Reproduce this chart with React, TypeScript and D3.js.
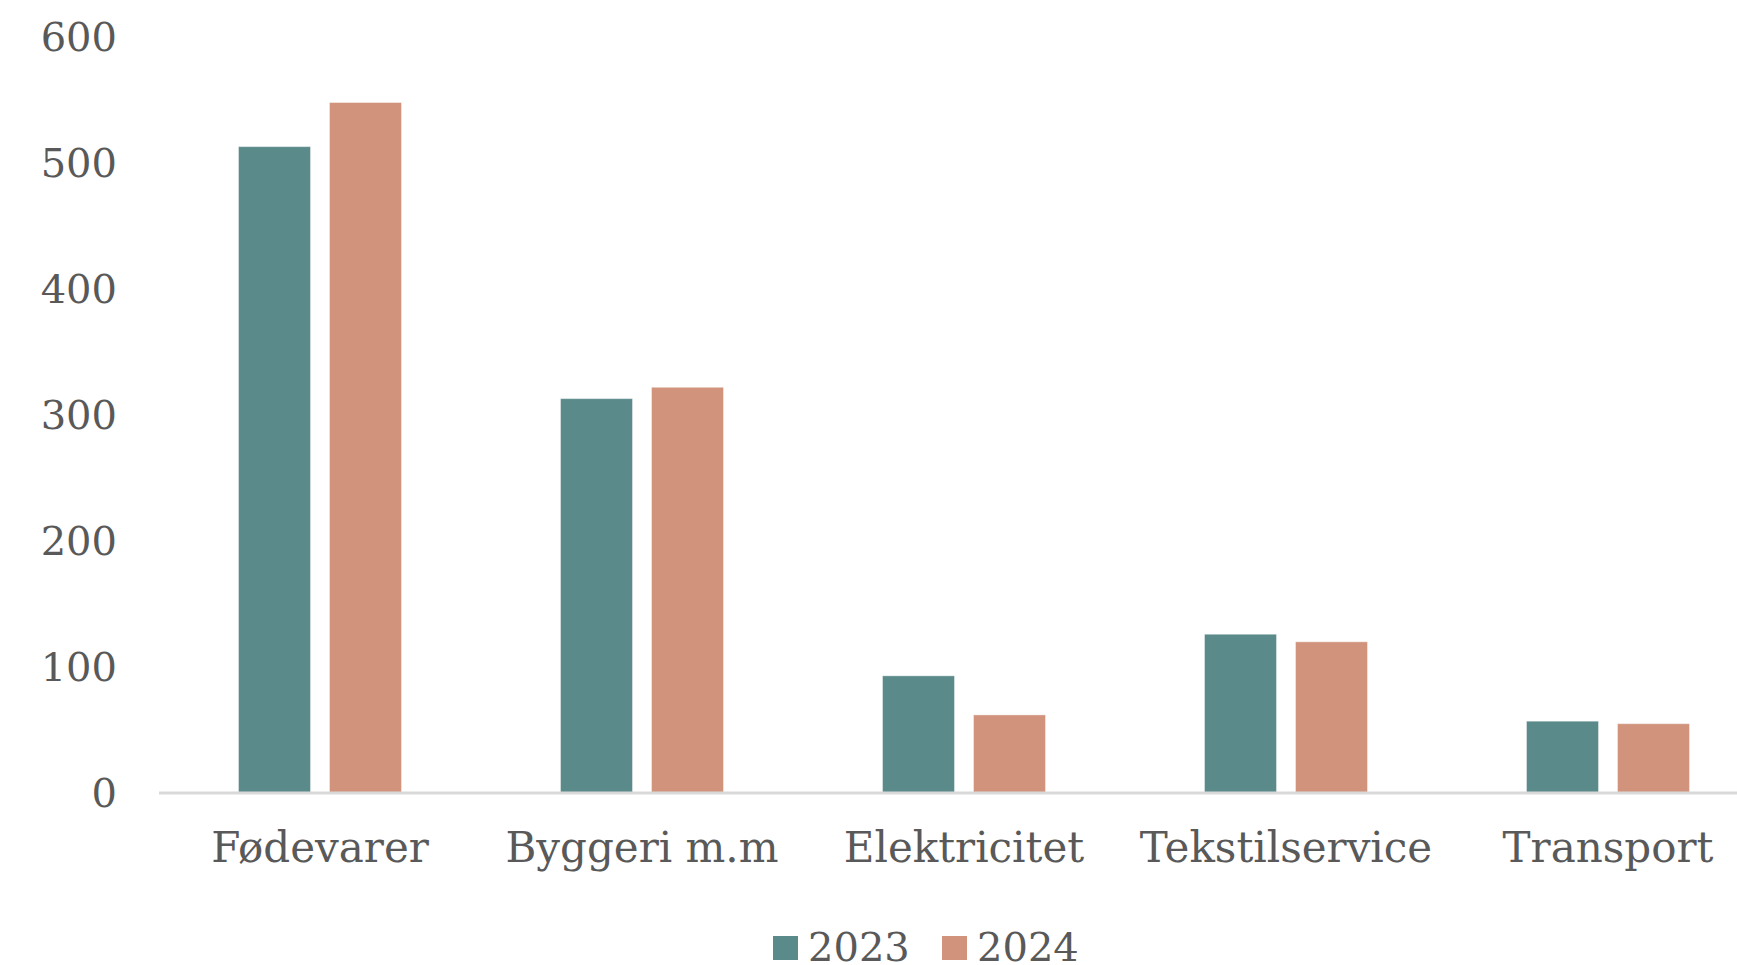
import React from "react";
import * as d3 from "d3";

const categories = ["Fødevarer", "Byggeri m.m", "Elektricitet", "Tekstilservice", "Transport"];
const series = ["2023", "2024"];
const values2023 = [513, 313, 93, 126, 57];
const values2024 = [548, 322, 62, 120, 55];
const yTicks = [0, 100, 200, 300, 400, 500, 600];
const colors = ["#5B8A8A", "#D1937C"];

const W = 1737;
const H = 965;
const FONT = "'DejaVu Serif', 'Liberation Serif', serif";
const TEXT = "#595959";

export default function App() {
  const x = d3.scaleBand<string>().domain(categories).range([159, 1769]).paddingInner(0).paddingOuter(0);
  const y = d3.scaleLinear().domain([0, 600]).range([793, 37]);
  const barW = 72;
  const gap = 19;
  const data = [values2023, values2024];

  return (
    <svg width={W} height={H} style={{ position: "absolute", left: 0, top: 0, background: "#fff" }}>
      {yTicks.map((t) => (
        <text key={t} x={117} y={y(t)} dy="0.36em" textAnchor="end" fontFamily={FONT} fontSize={40} fill={TEXT}>
          {t}
        </text>
      ))}
      {categories.map((c, i) => {
        const cx = (x(c) as number) + x.bandwidth() / 2;
        return (
          <g key={c}>
            {series.map((s, j) => {
              const v = data[j][i];
              const bx = cx - gap / 2 - barW + j * (barW + gap);
              return (
                <rect key={s} x={bx} y={y(v)} width={barW} height={y(0) - y(v)} fill={colors[j]} stroke="#ffffff" strokeOpacity={0.4} strokeWidth={1} />
              );
            })}
            <text x={cx} y={847} dy="0.36em" textAnchor="middle" fontFamily={FONT} fontSize={42} fill={TEXT}>
              {c}
            </text>
          </g>
        );
      })}
      <line x1={159} x2={W} y1={y(0)} y2={y(0)} stroke="#D9D9D9" strokeWidth={3} />
      {series.map((s, j) => {
        const lx = 773 + j * 169;
        return (
          <g key={s}>
            <rect x={lx} y={936} width={25} height={24} fill={colors[j]} />
            <text x={lx + 35} y={961} fontFamily={FONT} fontSize={40} fill={TEXT}>
              {s}
            </text>
          </g>
        );
      })}
    </svg>
  );
}
